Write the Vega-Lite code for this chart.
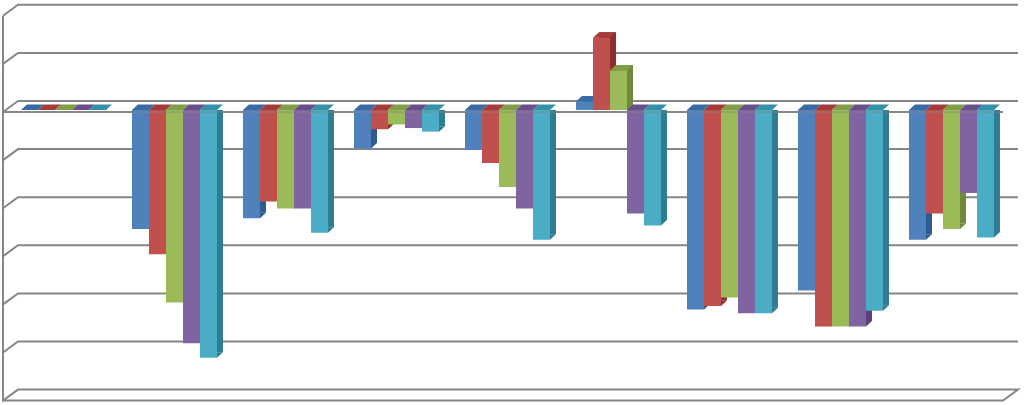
{"$schema":"https://vega.github.io/schema/vega-lite/v6.json","width":1024,"height":405,"padding":0,"autosize":{"type":"none"},"background":"white","config":{"view":{"stroke":null}},"datasets":{"grid":[{"level":40},{"level":20},{"level":0},{"level":-20},{"level":-40},{"level":-60},{"level":-80},{"level":-100}],"base":[{"level":-120}],"front":[{"level":0}],"bars":[{"group":"1","series":"A","value":0},{"group":"1","series":"B","value":0},{"group":"1","series":"C","value":0},{"group":"1","series":"D","value":0},{"group":"1","series":"E","value":0},{"group":"2","series":"A","value":-49.5},{"group":"2","series":"B","value":-60},{"group":"2","series":"C","value":-80},{"group":"2","series":"D","value":-97},{"group":"2","series":"E","value":-103},{"group":"3","series":"A","value":-45},{"group":"3","series":"B","value":-38},{"group":"3","series":"C","value":-41},{"group":"3","series":"D","value":-41},{"group":"3","series":"E","value":-51},{"group":"4","series":"A","value":-16},{"group":"4","series":"B","value":-8},{"group":"4","series":"C","value":-6},{"group":"4","series":"D","value":-7.5},{"group":"4","series":"E","value":-9},{"group":"5","series":"A","value":-16.6},{"group":"5","series":"B","value":-22},{"group":"5","series":"C","value":-32},{"group":"5","series":"D","value":-41},{"group":"5","series":"E","value":-54},{"group":"6","series":"A","value":3.5},{"group":"6","series":"B","value":30},{"group":"6","series":"C","value":16.4},{"group":"6","series":"D","value":-43},{"group":"6","series":"E","value":-48},{"group":"7","series":"A","value":-83},{"group":"7","series":"B","value":-81.5},{"group":"7","series":"C","value":-78},{"group":"7","series":"D","value":-84.5},{"group":"7","series":"E","value":-84.5},{"group":"8","series":"A","value":-75},{"group":"8","series":"B","value":-90},{"group":"8","series":"C","value":-90},{"group":"8","series":"D","value":-90},{"group":"8","series":"E","value":-83.5},{"group":"9","series":"A","value":-54},{"group":"9","series":"B","value":-43},{"group":"9","series":"C","value":-49.5},{"group":"9","series":"D","value":-34.5},{"group":"9","series":"E","value":-53}]},
"layer":[
{"data":{"name":"grid"},"mark":{"type":"point","shape":"M-60.5,11L-45.5,0L954.5,0","size":4,"filled":false,"stroke":"#868686","strokeWidth":2,"opacity":1,"yOffset":-9},"encoding":{"x":{"datum":"1","type":"nominal","axis":null,"scale":{"domain":["1","2","3","4","5","6","7","8","9"],"range":[8,1007],"paddingInner":0.234,"paddingOuter":0.117}},"y":{"field":"level","type":"quantitative","axis":null,"scale":{"domain":[-120,40],"range":[398.6,13.8]}}}},
{"data":{"name":"base"},"mark":{"type":"point","shape":"M-60.5,-373.6L-60.5,11L-45.5,0L954.5,0L939.5,11L-60.5,11","size":4,"filled":false,"stroke":"#868686","strokeWidth":2,"opacity":1,"yOffset":-9},"encoding":{"x":{"datum":"1","type":"nominal","axis":null,"scale":{"domain":["1","2","3","4","5","6","7","8","9"],"range":[8,1007],"paddingInner":0.234,"paddingOuter":0.117}},"y":{"field":"level","type":"quantitative","axis":null,"scale":{"domain":[-120,40],"range":[398.6,13.8]}}}},
{"data":{"name":"front"},"mark":{"type":"point","shape":"M-60.5,11L939.5,11","size":4,"filled":false,"stroke":"#868686","strokeWidth":2,"opacity":1,"yOffset":-9},"encoding":{"x":{"datum":"1","type":"nominal","axis":null,"scale":{"domain":["1","2","3","4","5","6","7","8","9"],"range":[8,1007],"paddingInner":0.234,"paddingOuter":0.117}},"y":{"field":"level","type":"quantitative","axis":null,"scale":{"domain":[-120,40],"range":[398.6,13.8]}}}},
{"data":{"name":"bars"},"transform":[{"filter":"datum.value!==0"}],"mark":{"type":"bar","yOffset":-5.5,"y2Offset":-5.5},"encoding":{"x":{"field":"group","type":"nominal","axis":null,"scale":{"domain":["1","2","3","4","5","6","7","8","9"],"range":[8,1007],"paddingInner":0.234,"paddingOuter":0.117}},"xOffset":{"field":"series","type":"nominal","scale":{"domain":["A","B","C","D","E"],"padding":0,"range":[6,91]}},"y":{"field":"value","type":"quantitative","axis":null,"stack":null,"scale":{"domain":[-120,40],"range":[398.6,13.8]}},"color":{"field":"series","type":"nominal","legend":null,"scale":{"domain":["A","B","C","D","E"],"range":["#2F5B8E","#8B2E2C","#6F8A3A","#5A4278","#2E7D92"]}}}},
{"data":{"name":"bars"},"transform":[{"filter":"datum.value<0"}],"mark":{"type":"point","shape":"M8.5,0L14.5,-5.5L8.5,-5.5Z","size":4,"filled":true,"opacity":1,"strokeWidth":0},"encoding":{"x":{"field":"group","type":"nominal","axis":null,"scale":{"domain":["1","2","3","4","5","6","7","8","9"],"range":[8,1007],"paddingInner":0.234,"paddingOuter":0.117}},"xOffset":{"field":"series","type":"nominal","scale":{"type":"band","domain":["A","B","C","D","E"],"padding":0,"range":[0,85]}},"y":{"field":"value","type":"quantitative","axis":null,"scale":{"domain":[-120,40],"range":[398.6,13.8]}},"color":{"field":"series","type":"nominal","legend":null,"scale":{"domain":["A","B","C","D","E"],"range":["#2F5B8E","#8B2E2C","#6F8A3A","#5A4278","#2E7D92"]}}}},
{"data":{"name":"bars"},"transform":[{"filter":"datum.value>0"}],"mark":{"type":"point","shape":"M8.5,0L14.5,-5.5L8.5,-5.5Z","size":4,"filled":true,"opacity":1,"strokeWidth":0},"encoding":{"x":{"field":"group","type":"nominal","axis":null,"scale":{"domain":["1","2","3","4","5","6","7","8","9"],"range":[8,1007],"paddingInner":0.234,"paddingOuter":0.117}},"xOffset":{"field":"series","type":"nominal","scale":{"type":"band","domain":["A","B","C","D","E"],"padding":0,"range":[0,85]}},"y":{"datum":0,"type":"quantitative","axis":null,"scale":{"domain":[-120,40],"range":[398.6,13.8]}},"color":{"field":"series","type":"nominal","legend":null,"scale":{"domain":["A","B","C","D","E"],"range":["#2F5B8E","#8B2E2C","#6F8A3A","#5A4278","#2E7D92"]}}}},
{"data":{"name":"bars"},"transform":[{"filter":"datum.value<=0"}],"mark":{"type":"point","shape":"M-8.5,0L8.5,0L14.5,-5.5L-2.5,-5.5Z","size":4,"filled":true,"opacity":1,"strokeWidth":0},"encoding":{"x":{"field":"group","type":"nominal","axis":null,"scale":{"domain":["1","2","3","4","5","6","7","8","9"],"range":[8,1007],"paddingInner":0.234,"paddingOuter":0.117}},"xOffset":{"field":"series","type":"nominal","scale":{"type":"band","domain":["A","B","C","D","E"],"padding":0,"range":[0,85]}},"y":{"datum":0,"type":"quantitative","axis":null,"scale":{"domain":[-120,40],"range":[398.6,13.8]}},"color":{"field":"series","type":"nominal","legend":null,"scale":{"domain":["A","B","C","D","E"],"range":["#3A6AA3","#A33B39","#7F9E45","#684E8B","#3290A8"]}}}},
{"data":{"name":"bars"},"transform":[{"filter":"datum.value>0"}],"mark":{"type":"point","shape":"M-8.5,0L8.5,0L14.5,-5.5L-2.5,-5.5Z","size":4,"filled":true,"opacity":1,"strokeWidth":0},"encoding":{"x":{"field":"group","type":"nominal","axis":null,"scale":{"domain":["1","2","3","4","5","6","7","8","9"],"range":[8,1007],"paddingInner":0.234,"paddingOuter":0.117}},"xOffset":{"field":"series","type":"nominal","scale":{"type":"band","domain":["A","B","C","D","E"],"padding":0,"range":[0,85]}},"y":{"field":"value","type":"quantitative","axis":null,"scale":{"domain":[-120,40],"range":[398.6,13.8]}},"color":{"field":"series","type":"nominal","legend":null,"scale":{"domain":["A","B","C","D","E"],"range":["#3A6AA3","#A33B39","#7F9E45","#684E8B","#3290A8"]}}}},
{"data":{"name":"bars"},"transform":[{"filter":"datum.value!==0"}],"mark":{"type":"bar"},"encoding":{"x":{"field":"group","type":"nominal","axis":null,"scale":{"domain":["1","2","3","4","5","6","7","8","9"],"range":[8,1007],"paddingInner":0.234,"paddingOuter":0.117}},"xOffset":{"field":"series","type":"nominal","scale":{"domain":["A","B","C","D","E"],"padding":0,"range":[0,85]}},"y":{"field":"value","type":"quantitative","axis":null,"stack":null,"scale":{"domain":[-120,40],"range":[398.6,13.8]}},"color":{"field":"series","type":"nominal","legend":null,"scale":{"domain":["A","B","C","D","E"],"range":["#4F81BD","#C0504D","#9BBB59","#8064A2","#4BACC6"]}}}},
{"data":{"name":"front"},"mark":{"type":"point","shape":"M-60.5,11L939.5,11","size":4,"filled":false,"stroke":"#868686","strokeWidth":2,"opacity":0.4,"yOffset":-9},"encoding":{"x":{"datum":"1","type":"nominal","axis":null,"scale":{"domain":["1","2","3","4","5","6","7","8","9"],"range":[8,1007],"paddingInner":0.234,"paddingOuter":0.117}},"y":{"field":"level","type":"quantitative","axis":null,"scale":{"domain":[-120,40],"range":[398.6,13.8]}}}}
],"resolve":{"scale":{"color":"independent","xOffset":"independent"}}}
